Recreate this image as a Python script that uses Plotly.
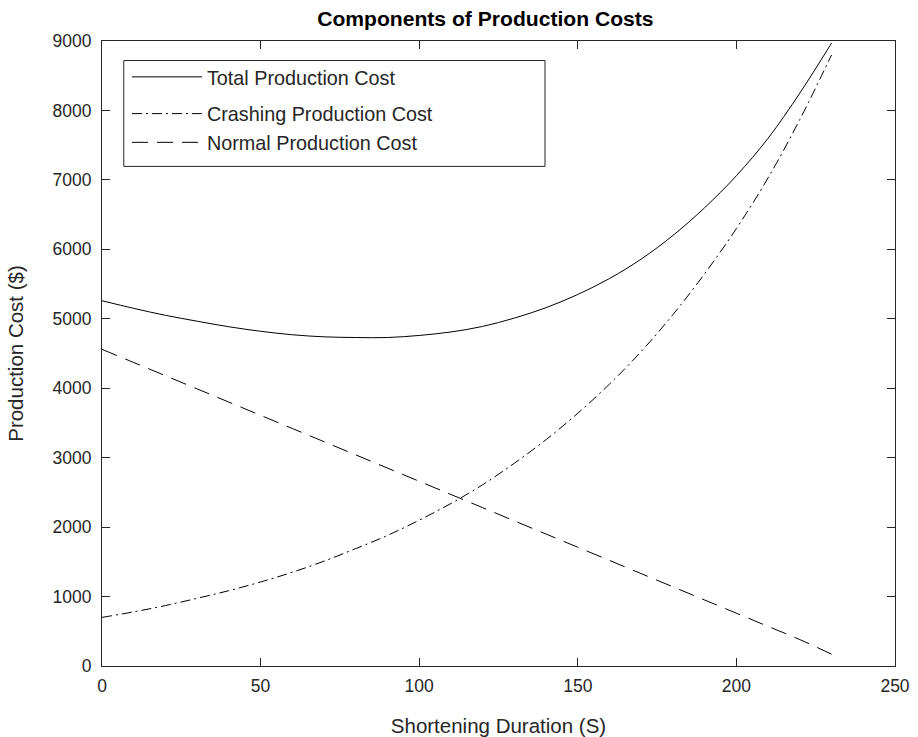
import plotly.graph_objects as go

# Shortening duration (S)
duration = [0, 10, 20, 30, 40, 50, 60, 70, 80, 90, 100, 110, 120,
            130, 140, 150, 160, 170, 180, 190, 200, 210, 220, 230]

total_cost = [5260, 5150, 5050, 4965, 4885, 4820, 4770, 4740, 4730, 4730, 4760, 4810, 4890,
              5010, 5160, 5350, 5580, 5860, 6200, 6600, 7060, 7600, 8250, 8970]

crashing_cost = [700, 780, 870, 975, 1085, 1210, 1350, 1510, 1690, 1880, 2100, 2340, 2610,
                 2920, 3260, 3640, 4060, 4530, 5060, 5650, 6300, 7030, 7870, 8800]

normal_cost = [4560, 4370, 4180, 3990, 3800, 3610, 3420, 3230, 3040, 2850, 2660, 2470, 2280,
               2090, 1900, 1710, 1520, 1330, 1140, 950, 760, 570, 380, 170]

x_ticks = [0, 50, 100, 150, 200, 250]
y_ticks = [0, 1000, 2000, 3000, 4000, 5000, 6000, 7000, 8000, 9000]

FONT = "Liberation Sans, Arial, Helvetica, sans-serif"
INK = "#262626"

fig = go.Figure()
fig.add_trace(go.Scatter(x=duration, y=total_cost, mode="lines", name="Total Production Cost",
                         line=dict(color="black", width=1, shape="spline"), legendgroup="a"))
fig.add_trace(go.Scatter(x=duration, y=crashing_cost, mode="lines", name="Crashing Production Cost",
                         line=dict(color="black", width=1, shape="spline", dash="10px,4px,2px,4px"),
                         legendgroup="b"))
fig.add_trace(go.Scatter(x=duration, y=normal_cost, mode="lines", name="Normal Production Cost",
                         line=dict(color="black", width=1, shape="spline", dash="16px,9px"),
                         legendgroup="b"))

L, R, T, B = 101.5, 22.6, 40.5, 71
W, H = 918, 737
pw = W - L - R
ph = H - T - B

def px_x(p):
    return (p - L) / pw

def px_y(p):
    return (H - B - p) / ph

fig.update_layout(
    width=W, height=H,
    margin=dict(l=L, r=R, t=T, b=B, pad=0),
    paper_bgcolor="white", plot_bgcolor="white",
    font=dict(family=FONT, color=INK, size=17.5),
    title=dict(text="<b>Components of Production Costs</b>", x=px_x(485.3), xref="paper",
               xanchor="center", y=1 - 19 / H, yref="container", yanchor="middle",
               font=dict(size=21.1, color="black", family=FONT)),
    showlegend=True,
    legend=dict(x=px_x(126.5), y=px_y(57), xanchor="left", yanchor="top",
                bgcolor="rgba(0,0,0,0)", borderwidth=0, itemwidth=70,
                font=dict(size=19.8, color=INK, family=FONT),
                traceorder="grouped", tracegroupgap=8),
    shapes=[dict(type="rect", xref="paper", yref="paper",
                 x0=px_x(123.3), x1=px_x(545), y0=px_y(166), y1=px_y(60),
                 line=dict(color=INK, width=1), fillcolor="white", layer="below")],
)

axis_common = dict(showgrid=False, zeroline=False, showline=True, linecolor=INK, linewidth=1,
                   ticks="inside", ticklen=8, tickwidth=1, tickcolor=INK, mirror="ticks",
                   automargin=False,
                   tickfont=dict(size=17.5, color=INK, family=FONT))

fig.update_xaxes(range=[0, 250], tickvals=x_ticks, ticktext=[str(v) for v in x_ticks],
                 title=dict(text="Shortening Duration (S)", font=dict(size=20.5, color=INK, family=FONT),
                            standoff=26),
                 ticklabelstandoff=4, **axis_common)
fig.update_yaxes(range=[0, 9000], tickvals=y_ticks, ticktext=[str(v) for v in y_ticks],
                 title=dict(text="Production Cost ($)", font=dict(size=20.5, color=INK, family=FONT),
                            standoff=23),
                 ticklabelstandoff=6, **axis_common)

fig.write_html("out.html", config={"displayModeBar": False},
               post_script="document.body.style.margin='0';document.body.style.overflow='hidden';")
